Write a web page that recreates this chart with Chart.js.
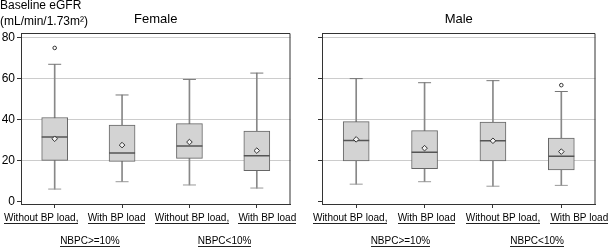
<!DOCTYPE html>
<html>
<head>
<meta charset="utf-8">
<script src="https://cdn.jsdelivr.net/npm/chart.js@4.4.1/dist/chart.umd.min.js"></script>
<style>
  body { margin: 0; background: #fff; }
  #wrap { position: relative; width: 610px; height: 248px; }
  canvas { position: absolute; top: 0; }
</style>
</head>
<body>
<div id="wrap">
  <canvas id="female" width="305" height="248" style="left:0"></canvas>
  <canvas id="male" width="305" height="248" style="left:305px"></canvas>
</div>
<script>
// categories / groups
const categories = ["Without BP load,", "With BP load", "Without BP load,", "With BP load"];
const groups = ["NBPC>=10%", "NBPC<10%"];

// Female box plot values
const femaleMin = [6, 9.6, 8, 6.5];
const femaleQ1 = [20, 19.5, 21, 15];
const femaleMedian = [31.4, 23.6, 27, 22.3];
const femaleQ3 = [41, 37.3, 38, 34.3];
const femaleMax = [67, 52, 59.6, 62.7];
const femaleMean = [30.6, 27.5, 29, 24.8];
const femaleOutlier = [75, null, null, null];

// Male box plot values
const maleMin = [8.4, 9.6, 7.4, 7.8];
const maleQ1 = [19.8, 16, 19.8, 15.4];
const maleMedian = [29.8, 24, 29.6, 22];
const maleQ3 = [39, 34.6, 38.7, 30.9];
const maleMax = [60, 58, 59, 53.7];
const maleMean = [30.3, 26, 29.6, 24.3];
const maleOutlier = [null, null, null, 56.8];

const yTicks = [0, 20, 40, 60, 80];
const yTitle = ["Baseline eGFR", "(mL/min/1.73m\u00B2)"];

const FONT = "'Liberation Sans', Arial, sans-serif";

function underlined(ctx, text, x, y) {
  ctx.fillText(text, x, y);
  const w = ctx.measureText(text).width;
  ctx.beginPath();
  ctx.moveTo(Math.round(x - w / 2), y + 5.5);
  ctx.lineTo(Math.round(x + w / 2), y + 5.5);
  ctx.stroke();
}

// frame, underlined x labels, group labels, y title
const extras = {
  id: "extras",
  afterDraw(chart, args, opts) {
    const ctx = chart.ctx;
    const a = chart.chartArea;
    const xs = chart.scales.x;
    ctx.save();
    ctx.strokeStyle = "#333";
    ctx.lineWidth = 1;
    ctx.beginPath();
    ctx.moveTo(a.left, a.top + 0.5);
    ctx.lineTo(a.right - 0.5, a.top + 0.5);
    ctx.lineTo(a.right - 0.5, a.bottom);
    ctx.stroke();

    ctx.fillStyle = "#000";
    ctx.strokeStyle = "#222";
    ctx.textAlign = "center";
    ctx.textBaseline = "middle";
    ctx.font = "10px " + FONT;
    categories.forEach((c, i) => {
      const x = xs.getPixelForTick(i) + (i - 1.5) * opts.spread + opts.shift;
      underlined(ctx, c, x, a.bottom + 14);
    });
    groups.forEach((g, k) => {
      const x = (xs.getPixelForTick(2 * k) + xs.getPixelForTick(2 * k + 1)) / 2 + opts.groupShift;
      underlined(ctx, g, x, a.bottom + 37);
    });

    if (opts.yTitle) {
      ctx.textAlign = "left";
      ctx.font = "12px " + FONT;
      ctx.fillText(yTitle[0], 0, 6);
      ctx.fillText(yTitle[1], 0, 22);
    }
    ctx.restore();
  }
};

function makeChart(id, title, mins, q1, med, q3, maxs, means, outl, opts) {
  const ctx = document.getElementById(id);
  return new Chart(ctx, {
    type: "bar",
    data: {
      labels: categories,
      datasets: [
        {
          label: "whisker",
          data: mins.map((v, i) => [v, maxs[i]]),
          backgroundColor: "#888",
          barThickness: 1,
          grouped: false,
          order: 5
        },
        {
          label: "box",
          data: q1.map((v, i) => [v, q3[i]]),
          backgroundColor: "#d3d3d3",
          borderColor: "#666",
          borderWidth: 1,
          borderSkipped: false,
          barThickness: 26,
          grouped: false,
          order: 4
        },
        {
          type: "line", label: "min", data: mins, showLine: false,
          pointStyle: "line", pointRadius: 6.5, pointBorderColor: "#999", pointBorderWidth: 1, order: 3
        },
        {
          type: "line", label: "max", data: maxs, showLine: false,
          pointStyle: "line", pointRadius: 6.5, pointBorderColor: "#777", pointBorderWidth: 1, order: 3
        },
        {
          type: "line", label: "median", data: med, showLine: false,
          pointStyle: "line", pointRadius: 13, pointBorderColor: "#555", pointBorderWidth: 1.5, order: 2
        },
        {
          type: "line", label: "mean", data: means, showLine: false,
          pointStyle: "rectRot", pointRadius: 2.8, pointBackgroundColor: "#f2f2f2",
          pointBorderColor: "#333", pointBorderWidth: 1, order: 1
        },
        {
          type: "line", label: "outlier", data: outl, showLine: false,
          pointStyle: "circle", pointRadius: 1.8, pointBackgroundColor: "#fff",
          pointBorderColor: "#333", pointBorderWidth: 1, order: 0
        }
      ]
    },
    options: {
      responsive: false,
      animation: false,
      layout: { padding: { left: 0, right: opts.right, top: 0, bottom: 0 } },
      plugins: {
        legend: { display: false },
        tooltip: { enabled: false },
        title: {
          display: true,
          text: title,
          fullSize: false,
          color: "#000",
          font: { family: FONT, size: 13, weight: "normal" },
          padding: { top: 12, bottom: 5.4 }
        },
        extras: opts.extras
      },
      scales: {
        x: {
          offset: true,
          grid: { offset: false, drawOnChartArea: false, drawTicks: true, tickLength: 4, tickColor: "#333" },
          border: { color: "#333" },
          ticks: { display: false },
          afterFit(s) { s.height = 44; }
        },
        y: {
          min: -1.3,
          max: 82.3,
          afterBuildTicks(s) { s.ticks = yTicks.map(v => ({ value: v })); },
          grid: {
            color: c => (c.tick && c.tick.value === 0 ? "rgba(0,0,0,0)" : "#cccccc"),
            tickColor: "#333",
            tickLength: 4
          },
          border: { color: "#333" },
          ticks: {
            display: opts.yLabels,
            color: "#000",
            padding: 2,
            font: { family: FONT, size: 12 }
          },
          afterFit(s) { s.width = opts.axisWidth; }
        }
      }
    },
    plugins: [extras]
  });
}

makeChart("female", "Female", femaleMin, femaleQ1, femaleMedian, femaleQ3, femaleMax, femaleMean, femaleOutlier,
  { right: 14, axisWidth: 21, yLabels: true, extras: { spread: 8, shift: -1.5, groupShift: 1.5, yTitle: true } });
makeChart("male", "Male", maleMin, maleQ1, maleMedian, maleQ3, maleMax, maleMean, maleOutlier,
  { right: 13, axisWidth: 17, yLabels: false, extras: { spread: 8, shift: 6, groupShift: 10, yTitle: false } });
</script>
</body>
</html>
